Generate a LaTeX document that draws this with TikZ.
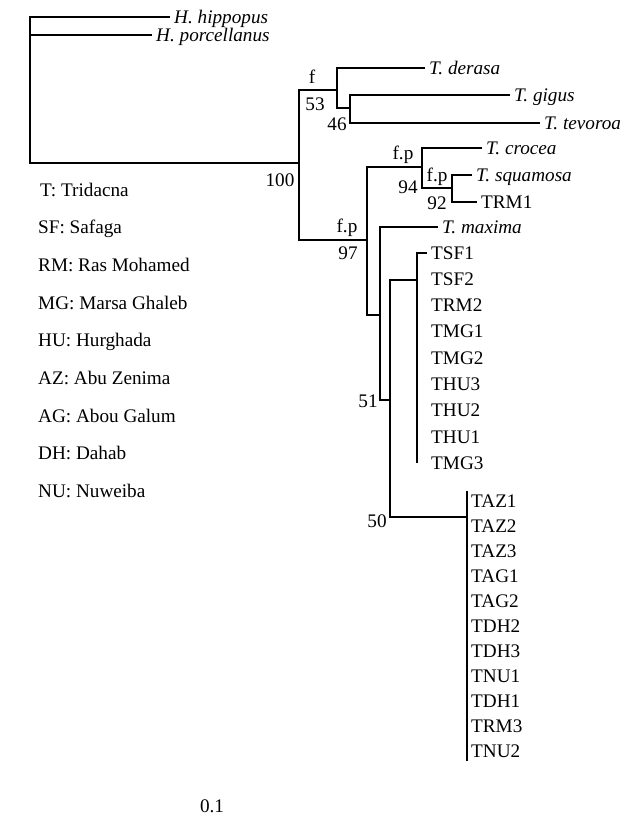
\documentclass[tikz,border=0pt]{standalone}
\usepackage{fontspec}
\setmainfont{Liberation Serif}
\usetikzlibrary{positioning}

\begin{document}
\begin{tikzpicture}[
    x=1pt, y=-1pt,
    branch/.style={line width=1.9pt},
    leaf/.style={anchor=west, inner sep=4pt, text height=12pt, text depth=0pt, font=\fontsize{19.2}{22}\selectfont},
    species/.style={leaf, font=\fontsize{19.2}{22}\selectfont\itshape},
    support/.style={inner sep=0pt, text height=12pt, text depth=0pt, font=\fontsize{19.2}{22}\selectfont},
    legend/.style={anchor=west, inner sep=0pt, text height=12pt, text depth=0pt, font=\fontsize{19.2}{22}\selectfont}
]
\useasboundingbox (0,0) rectangle (624,820);

% Outgroup
\node[species] (hhip) at (170,17) {H. hippopus};
\node[species] (hpor) at (152,35) {H. porcellanus};

% Tridacna species
\node[species] (tder) at (425,68) {T. derasa};
\node[species] (tgig) at (510,95) {T. gigus};
\node[species] (ttev) at (540,123) {T. tevoroa};
\node[species] (tcro) at (482,148) {T. crocea};
\node[species] (tsqu) at (472,175) {T. squamosa};
\node[leaf] (trm1) at (477,202) {TRM1};
\node[species] (tmax) at (438,227) {T. maxima};

% First haplotype group (vertical chain)
\node[leaf] (tsf1) at (427,253) {TSF1};
\node[leaf, below=5.9pt of tsf1.south west, anchor=north west] (tsf2) {TSF2};
\node[leaf, below=5.9pt of tsf2.south west, anchor=north west] (trm2) {TRM2};
\node[leaf, below=5.9pt of trm2.south west, anchor=north west] (tmg1) {TMG1};
\node[leaf, below=5.9pt of tmg1.south west, anchor=north west] (tmg2) {TMG2};
\node[leaf, below=5.9pt of tmg2.south west, anchor=north west] (thu3) {THU3};
\node[leaf, below=5.9pt of thu3.south west, anchor=north west] (thu2) {THU2};
\node[leaf, below=5.9pt of thu2.south west, anchor=north west] (thu1) {THU1};
\node[leaf, below=5.9pt of thu1.south west, anchor=north west] (tmg3) {TMG3};

% Second haplotype group (vertical chain)
\node[leaf] (taz1) at (467,501) {TAZ1};
\node[leaf, below=4.6pt of taz1.south west, anchor=north west] (taz2) {TAZ2};
\node[leaf, below=4.6pt of taz2.south west, anchor=north west] (taz3) {TAZ3};
\node[leaf, below=4.6pt of taz3.south west, anchor=north west] (tag1) {TAG1};
\node[leaf, below=4.6pt of tag1.south west, anchor=north west] (tag2) {TAG2};
\node[leaf, below=4.6pt of tag2.south west, anchor=north west] (tdh2) {TDH2};
\node[leaf, below=4.6pt of tdh2.south west, anchor=north west] (tdh3) {TDH3};
\node[leaf, below=4.6pt of tdh3.south west, anchor=north west] (tnu1) {TNU1};
\node[leaf, below=4.6pt of tnu1.south west, anchor=north west] (tdh1) {TDH1};
\node[leaf, below=4.6pt of tdh1.south west, anchor=north west] (trm3) {TRM3};
\node[leaf, below=4.6pt of trm3.south west, anchor=north west] (tnu2) {TNU2};

% Internal nodes
\coordinate (root) at (30,163);
\coordinate (nA) at (299,163);
\coordinate (nB) at (337,90);
\coordinate (nD) at (350,108);
\coordinate (nC) at (367,240);
\coordinate (nE) at (422,167);
\coordinate (nG) at (452,188);
\coordinate (nF) at (380,315);
\coordinate (nH) at (390,400);
\coordinate (nI) at (417,280);
\coordinate (nJ) at (467,517);

% Branches
\draw[branch] (hhip.west) -| (root) -- (nA);
\draw[branch] (root |- hpor.west) -- (hpor.west);
\draw[branch] (nB) -| (nA) |- (nC);
\draw[branch] (tder.west) -| (nB) |- (nD);
\draw[branch] (tgig.west) -| (nD) |- (ttev.west);
\draw[branch] (nE) -| (nC) |- (nF);
\draw[branch] (tcro.west) -| (nE) |- (nG);
\draw[branch] (tsqu.west) -| (nG) |- (trm1.west);
\draw[branch] (tmax.west) -| (nF) |- (nH);
\draw[branch] (nI) -| (nH) |- (nJ);
\draw[branch] (tsf1.west) -| (nI) -- (nI |- tmg3.west);
\draw[branch] (nJ |- taz1.north) -- (nJ |- tnu2.south);

% Support values
\node[support] (s100) at (280,180) {100};
\node[support] (f53) at (312,77) {f};
\node[support] (s53) at (315,104) {53};
\node[support] (s46) at (337,124) {46};
\node[support] (fp97) at (347,226) {f.p};
\node[support] (s97) at (348,253) {97};
\node[support] (fp94) at (403,153) {f.p};
\node[support] (s94) at (408,187) {94};
\node[support] (fp92) at (437,175) {f.p};
\node[support] (s92) at (437,203) {92};
\node[support] (s51) at (368,401) {51};
\node[support] (s50) at (377,521) {50};

% Legend (left side)
\node[legend] (lgT) at (40,190) {T: Tridacna};
\node[legend, below=25.3pt of lgT.south west, anchor=north west, xshift=-2pt] (lgSF) {SF: Safaga};
\node[legend, below=25.3pt of lgSF.south west, anchor=north west] (lgRM) {RM: Ras Mohamed};
\node[legend, below=25.3pt of lgRM.south west, anchor=north west] (lgMG) {MG: Marsa Ghaleb};
\node[legend, below=25.3pt of lgMG.south west, anchor=north west] (lgHU) {HU: Hurghada};
\node[legend, below=25.3pt of lgHU.south west, anchor=north west] (lgAZ) {AZ: Abu Zenima};
\node[legend, below=25.3pt of lgAZ.south west, anchor=north west] (lgAG) {AG: Abou Galum};
\node[legend, below=25.3pt of lgAG.south west, anchor=north west] (lgDH) {DH: Dahab};
\node[legend, below=25.3pt of lgDH.south west, anchor=north west] (lgNU) {NU: Nuweiba};

% Scale
\node[support] (scale) at (212,806) {0.1};

\end{tikzpicture}
\end{document}
